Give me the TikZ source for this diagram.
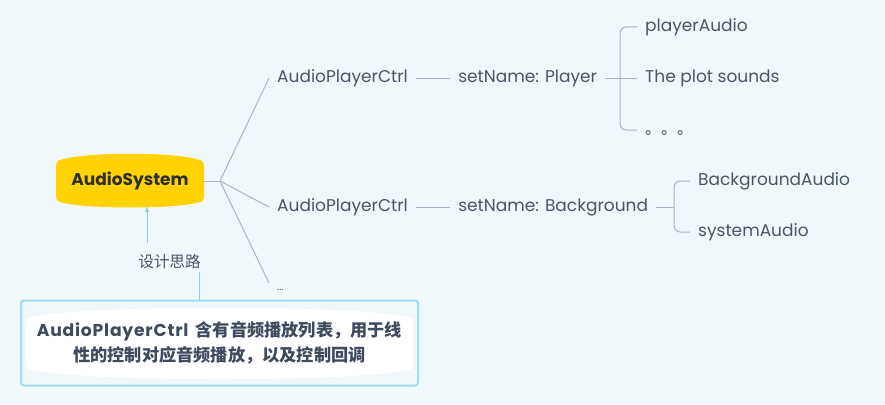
\documentclass[tikz,border=0pt]{standalone}
\usepackage{fontspec}
\setmainfont{Poppins}
\newfontfamily\cjk{Noto Sans CJK SC}
\usetikzlibrary{arrows,positioning}
\definecolor{paper}{HTML}{F0F8FB}
\definecolor{ink}{HTML}{4A5568}
\definecolor{wire}{HTML}{A8B5C6}
\definecolor{topicyellow}{HTML}{FFD200}
\definecolor{rootink}{HTML}{2E2E2E}
\definecolor{noteedge}{HTML}{A0DBF8}
\definecolor{ideawire}{HTML}{8DCBEB}
\definecolor{noteink}{HTML}{3E4A5E}

\begin{document}
\begin{tikzpicture} [
	x = 1pt, y = -1pt,
	every node/.style = {text=ink, font=\fontsize{17}{20}\selectfont},
	topic/.style = {anchor=west, inner xsep=8pt, inner ysep=0pt, text height=12pt, text depth=3pt},
	root/.style = {minimum width=148pt, minimum height=50pt, text=rootink, font=\bfseries\fontsize{17}{20}\selectfont},
	branch/.style = {draw=wire, line width=1pt},
	idealine/.style = {draw=ideawire, line width=1pt},
	note/.style = {draw=noteedge, line width=2pt, rounded corners=3pt, minimum width=397pt, minimum height=85pt},
	memo/.style = {align=center, text=noteink, font=\bfseries\fontsize{17.2}{25}\selectfont}
]
\useasboundingbox [fill=paper] (0,0) rectangle (885,404);
\fill [topicyellow] (56,167) .. controls (56,161) and (58,160) .. (64,159) .. controls (90,152) and (170,152) .. (196,159) .. controls (202,160) and (204,161) .. (204,167) -- (204,195) .. controls (204,201) and (202,202) .. (196,203) .. controls (170,209) and (90,209) .. (64,203) .. controls (58,202) and (56,201) .. (56,195) -- cycle;
\node [root] (sys) at (130,181) {AudioSystem};
\coordinate (hub) at (220,181);
\node [topic] (ctrlA) at (269,78) {AudioPlayerCtrl};
\node [topic, right=34pt of ctrlA] (player) {setName: Player};
\node [topic] (pa) at (637,27) {playerAudio};
\node [topic] (plot) at (637,78) {The plot sounds};
\node [topic, font=\cjk\fontsize{16}{19}\selectfont] (more) at (637,130) {。。。};
\node [topic] (ctrlB) at (269,207) {AudioPlayerCtrl};
\node [topic, right=34pt of ctrlB] (bg) {setName: Background};
\node [topic] (bga) at (690,181) {BackgroundAudio};
\node [topic] (sa) at (690,232) {systemAudio};
\node [topic, font=\fontsize{10}{12}\selectfont] (etc) at (269,286) {...};
\coordinate (pj) at ([xshift=15pt]player.east);
\coordinate (bj) at ([xshift=18pt]bg.east);
\draw [branch] (sys.east) -- (hub);
\draw [branch] (hub) -- (ctrlA.west);
\draw [branch] (hub) -- (ctrlB.west);
\draw [branch] (hub) -- ([yshift=3pt]etc.west);
\draw [branch] (ctrlA) -- (player);
\draw [branch] (ctrlB) -- (bg);
\draw [branch] (player.east) -- (plot.west);
\draw [branch, rounded corners=6pt] (pa.west) -| (pj) |- (more.west);
\draw [branch] (bg.east) -- (bj);
\draw [branch, rounded corners=6pt] (bga.west) -| (bj) |- (sa.west);
\node [note] (note) at (219.5,343) {};
\fill [white] (26,323) .. controls (26,318) and (28,317) .. (34,316) .. controls (100,305) and (340,305) .. (405,316) .. controls (411,317) and (413,318) .. (413,323) -- (413,364) .. controls (413,369) and (411,370) .. (405,371) .. controls (340,382) and (100,382) .. (34,371) .. controls (28,370) and (26,369) .. (26,364) -- cycle;
\node [memo] (memotext) at (note) {{\addfontfeature{LetterSpace=4.5}AudioPlayerCtrl}\ \ {\cjk 含有音频播放列表，用于线}\\{\cjk 性的控制对应音频播放，以及控制回调}};
\node [font=\cjk\fontsize{15.5}{18}\selectfont] (idea) at (169.5,262) {设计思路};
\coordinate (ia) at (147,243);
\coordinate (ib) at (199,272);
\draw [idealine, -latex] (ia) -- (sys.south -| ia);
\draw [idealine] (ib) -- (note.north -| ib);
\end{tikzpicture}
\end{document}
